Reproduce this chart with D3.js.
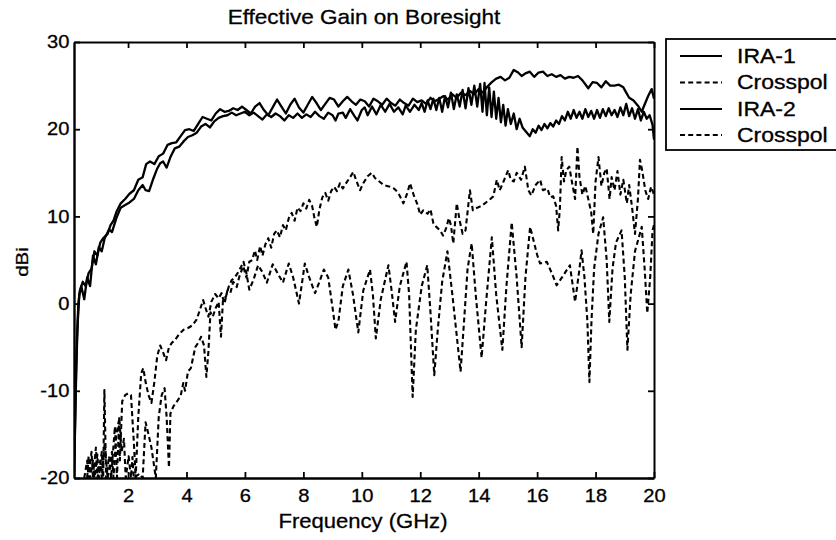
<!DOCTYPE html>
<html><head><meta charset="utf-8">
<script src="https://cdn.jsdelivr.net/npm/d3@7"></script>
<style>body{margin:0;background:#fff}svg{display:block}text{font-family:"Liberation Sans",Arial,sans-serif;fill:#000;stroke:#000;stroke-width:0.3px}</style>
</head><body><svg id="c" width="836" height="540"></svg>
<script>
const title = "Effective Gain on Boresight";
const xLabel = "Frequency (GHz)";
const yLabel = "dBi";
const xTicks = [2,4,6,8,10,12,14,16,18,20];
const yTicks = [-20,-10,0,10,20,30];
const legendLabels = ["IRA-1","Crosspol","IRA-2","Crosspol"];

const ira1F = [0.15,0.2,0.25,0.3,0.35,0.45,0.55,0.65,0.75,0.85,0.95,1.05,1.15,1.3,1.4,1.5,1.6,1.75,1.9,2.05,2.2,2.35,2.5,2.62,2.75,2.9,3.05,3.2,3.35,3.5,3.65,3.8,3.95,4.1,4.25,4.4,4.55,4.7,4.85,5.0,5.15,5.3,5.45,5.6,5.75,5.9,6.05,6.2,6.35,6.5,6.65,6.8,6.95,7.1,7.25,7.4,7.55,7.7,7.85,8.0,8.15,8.3,8.45,8.6,8.75,8.9,9.05,9.2,9.35,9.5,9.65,9.8,9.95,10.1,10.25,10.4,10.55,10.7,10.85,11.0,11.15,11.3,11.45,11.6,11.75,11.9,12.05,12.2,12.35,12.5,12.65,12.8,12.95,13.1,13.25,13.4,13.55,13.7,13.85,14.0,14.15,14.3,14.45,14.6,14.75,14.9,15.05,15.2,15.35,15.47,15.6,15.75,15.9,16.05,16.2,16.35,16.5,16.65,16.8,16.95,17.1,17.25,17.4,17.55,17.75,17.9,18.05,18.2,18.35,18.5,18.65,18.8,18.95,19.05,19.15,19.3,19.45,19.58,19.7,19.8,19.92,20.0];
const ira1V = [-20,-12,-4,0,1.5,2.5,2.0,3.5,4.0,6.0,5.5,7.0,7.5,8.0,9.0,9.5,10.5,11.5,12.0,12.6,13.0,14.2,14.5,16.0,16.3,16.0,16.9,17.2,18.2,18.4,18.5,19.2,19.9,20.0,19.8,20.6,21.4,21.2,21.0,21.8,22.3,22.0,22.1,22.4,22.2,22.6,22.2,21.8,22.6,23.0,22.2,21.6,22.5,23.4,22.6,21.8,22.8,23.5,22.5,21.9,22.8,23.7,23.0,22.2,22.9,23.6,23.4,22.6,23.2,23.7,23.2,22.8,23.4,23.2,22.6,23.5,23.2,22.8,23.5,23.0,22.7,23.4,23.0,22.7,23.5,23.1,23.3,22.9,23.6,23.2,23.5,23.8,23.4,24.0,23.6,24.2,23.9,24.4,24.0,24.6,24.2,24.9,25.4,25.8,26.0,25.6,25.9,26.8,26.5,26.1,26.4,26.6,26.0,26.5,26.6,26.1,26.3,26.0,26.2,25.8,26.0,25.9,26.1,25.6,24.7,25.4,25.3,24.8,25.5,25.0,25.0,25.1,24.8,24.2,23.6,23.3,22.7,22.0,23.0,23.8,24.6,23.5];

const ira2F = [0.15,0.22,0.28,0.33,0.4,0.5,0.6,0.7,0.8,0.9,1.0,1.1,1.2,1.35,1.45,1.6,1.75,1.9,2.05,2.2,2.35,2.5,2.6,2.72,2.85,3.0,3.1,3.2,3.32,3.45,3.6,3.75,3.9,4.05,4.2,4.35,4.5,4.65,4.8,4.95,5.1,5.25,5.4,5.55,5.7,5.85,6.0,6.15,6.3,6.45,6.6,6.75,6.9,7.05,7.2,7.35,7.5,7.65,7.8,7.95,8.1,8.25,8.4,8.55,8.7,8.85,9.0,9.1,9.2,9.35,9.45,9.6,9.75,9.85,10.0,10.1,10.2,10.35,10.5,10.65,10.8,10.95,11.1,11.25,11.4,11.5,11.65,11.8,11.95,12.05,12.15,12.25,12.35,12.45,12.55,12.65,12.75,12.85,12.95,13.05,13.15,13.25,13.35,13.45,13.55,13.65,13.75,13.85,13.95,14.05,14.13,14.2,14.28,14.36,14.44,14.52,14.6,14.68,14.76,14.84,14.92,15.0,15.1,15.2,15.3,15.4,15.5,15.6,15.75,15.85,15.95,16.05,16.15,16.25,16.35,16.45,16.55,16.65,16.75,16.85,16.95,17.05,17.15,17.25,17.35,17.45,17.55,17.65,17.75,17.85,17.95,18.05,18.15,18.25,18.35,18.45,18.55,18.65,18.75,18.85,18.95,19.05,19.15,19.25,19.35,19.45,19.55,19.65,19.75,19.85,19.95,20.0];
const ira2V = [-20,-8,-2,1.0,2.0,0.5,3.0,2.0,5.5,4.5,6.5,6.0,7.5,8.5,8.2,9.8,11.0,11.3,11.6,12.0,13.0,13.6,13.0,12.9,14.2,15.5,16.1,16.3,15.6,16.8,17.8,18.0,18.6,19.1,19.3,19.6,20.3,20.6,20.2,20.9,21.3,21.5,21.6,21.9,21.6,21.8,22.0,21.6,21.9,21.5,21.1,21.7,21.4,21.8,21.5,21.0,21.6,21.3,21.8,21.3,21.7,21.4,22.0,21.5,21.2,21.9,21.6,21.0,21.8,21.9,21.3,22.3,21.5,21.0,22.2,22.5,21.6,22.6,21.7,22.8,22.0,22.9,22.0,22.5,21.7,22.7,22.0,22.8,22.2,23.0,22.0,23.3,22.3,23.5,22.2,23.6,22.0,23.8,22.5,24.2,22.3,24.0,22.6,24.5,22.4,24.7,22.8,25.0,22.6,25.2,22.0,25.3,21.6,24.8,21.4,24.3,21.2,23.6,20.8,22.8,20.4,22.3,20.6,21.8,20.0,21.2,20.2,19.8,19.2,20.0,19.6,20.4,19.9,20.6,20.1,20.7,20.3,21.0,20.6,21.5,21.0,22.0,21.2,22.2,21.3,22.0,21.2,22.3,21.4,22.1,21.2,22.2,21.3,22.3,21.5,22.4,21.6,22.2,21.4,22.5,21.6,22.9,21.5,22.4,21.2,22.3,21.0,22.0,21.2,21.6,20.5,18.8];

const cross1F = [0.5,0.6,0.65,0.75,0.8,0.9,0.95,1.05,1.1,1.2,1.3,1.45,1.5,1.6,1.68,1.72,1.8,1.9,2.0,2.1,2.2,2.26,2.35,2.45,2.52,2.6,2.7,2.8,2.9,3.0,3.1,3.2,3.3,3.4,3.5,3.6,3.75,3.9,4.05,4.2,4.35,4.45,4.57,4.65,4.75,4.85,4.98,5.1,5.2,5.3,5.4,5.5,5.6,5.72,5.8,5.94,6.05,6.15,6.25,6.34,6.42,6.52,6.6,6.7,6.8,6.9,7.0,7.09,7.2,7.3,7.4,7.5,7.6,7.7,7.8,7.9,8.0,8.1,8.2,8.3,8.38,8.46,8.55,8.65,8.75,8.85,8.95,9.05,9.15,9.25,9.35,9.48,9.6,9.71,9.8,9.94,10.05,10.2,10.34,10.45,10.6,10.75,10.96,11.1,11.25,11.42,11.55,11.65,11.78,11.9,12.0,12.1,12.25,12.35,12.45,12.55,12.68,12.78,12.88,12.98,13.05,13.13,13.25,13.35,13.45,13.55,13.7,13.8,13.95,14.1,14.25,14.4,14.5,14.62,14.72,14.85,15.01,15.1,15.2,15.3,15.45,15.58,15.7,15.8,15.95,16.1,16.2,16.35,16.45,16.55,16.65,16.72,16.78,16.84,16.92,17.0,17.1,17.2,17.3,17.38,17.45,17.55,17.65,17.75,17.85,17.92,18.0,18.1,18.2,18.3,18.38,18.48,18.55,18.65,18.75,18.85,18.95,19.07,19.15,19.25,19.35,19.45,19.52,19.6,19.7,19.8,19.9,20.0];
const cross1V = [-20,-18,-20,-17,-20,-16.5,-20,-18,-20,-16,-20,-17,-20,-15,-13.5,-18,-11.2,-10.5,-10.3,-10.5,-16,-20,-13,-8.0,-7.4,-9,-10.5,-11.4,-9,-6,-4.8,-5.6,-6.5,-5.0,-4.5,-4.2,-3.5,-3.0,-2.8,-2.5,-1.8,-0.8,0.4,-0.5,-1.5,0.2,1.1,0.6,1.2,0.0,1.5,1.2,2.5,1.9,3.0,4.3,3.0,4.8,5.0,6.1,5.0,6.6,5.5,6.8,7.5,6.4,8.0,8.4,7.6,9.0,8.4,9.8,10.4,9.5,11.0,10.6,11.5,10.9,11.9,11.2,9.8,8.8,10.8,12.2,12.7,11.8,12.9,13.4,12.9,13.8,13.2,13.9,14.5,15.1,14.2,13.0,13.8,14.6,15.0,14.4,14.0,13.6,13.4,13.2,12.7,11.5,12.6,13.8,12.4,11.4,10.2,10.7,10.3,10.8,9.2,8.8,8.4,7.8,8.6,9.8,9.0,6.9,11.5,9.5,8.0,8.4,13.0,10.7,11.0,11.2,11.6,12.0,12.3,14.2,13.0,14.0,15.3,14.2,14.0,15.0,14.2,15.7,13.0,12.4,13.6,14.2,13.0,13.2,12.2,12.3,11.2,8.4,11.0,16.8,14.0,15.3,15.7,13.8,12.0,18.0,14.5,12.5,13.5,12.0,10.5,8.0,14.0,16.8,13.5,15.0,15.5,12.0,14.5,13.0,15.2,12.5,14.2,11.5,13.6,11.0,8.0,12.0,16.5,15.2,13.0,12.0,13.4,12.5];

const cross2F = [0.6,0.65,0.7,0.8,0.85,0.95,1.0,1.1,1.15,1.19,1.25,1.35,1.42,1.55,1.62,1.7,1.78,1.86,1.92,2.02,2.1,2.15,2.2,2.4,2.5,2.6,2.7,2.8,2.95,3.05,3.15,3.25,3.32,3.4,3.45,3.55,3.7,3.8,3.89,3.95,4.05,4.15,4.3,4.4,4.5,4.6,4.68,4.75,4.82,4.9,5.0,5.1,5.18,5.25,5.35,5.45,5.55,5.65,5.75,5.85,5.95,6.05,6.15,6.3,6.45,6.6,6.75,6.95,7.1,7.3,7.5,7.65,7.85,8.05,8.2,8.4,8.55,8.7,8.85,9.0,9.1,9.2,9.35,9.54,9.7,9.88,10.05,10.28,10.38,10.48,10.65,10.91,11.02,11.14,11.3,11.53,11.62,11.74,11.85,12.05,12.24,12.35,12.48,12.6,12.75,12.93,13.1,13.38,13.5,13.62,13.76,13.9,14.1,14.25,14.45,14.6,14.81,14.95,15.13,15.3,15.47,15.6,15.76,16.0,16.1,16.33,16.5,16.67,16.85,17.12,17.3,17.45,17.52,17.62,17.72,17.79,17.86,17.95,18.1,18.26,18.38,18.47,18.58,18.7,18.89,19.0,19.09,19.2,19.35,19.58,19.68,19.77,19.87,19.95,20.0];
const cross2V = [-20,-17.5,-20,-18,-20,-17.3,-20,-17,-20,-9.9,-20,-17.5,-20,-14.1,-20,-13,-17,-15.5,-20,-17.5,-20,-17.6,-20,-19.5,-20,-13.6,-15,-16.5,-20,-13,-10.5,-9.7,-13,-18.8,-12.6,-11.8,-11.1,-10.6,-9.1,-10,-7.8,-7.4,-5.0,-4.5,-3.8,-4.8,-8.4,-5.5,-1.0,-1.5,-0.5,0.2,-3.8,0.5,0.8,2.0,2.7,3.0,3.5,4.1,4.8,3.5,1.6,2.8,4.4,3.6,2.4,4.5,3.6,2.4,4.6,3.0,0.0,4.6,3.0,1.2,2.5,3.9,3.0,-0.5,-3.0,-2.0,2.0,3.9,1.0,-3.3,1.5,3.9,1.0,-4.0,0.5,4.4,1.5,-2.1,2.0,4.8,1.0,-10.7,-3.0,2.0,4.4,-1.0,-8.2,-3.0,2.5,6.0,1.0,-7.8,-2.0,4.0,6.9,1.0,-6.2,0.0,7.6,1.0,-5.3,2.0,9.3,3.0,-5.0,3.0,8.8,5.6,4.6,4.8,3.5,2.1,3.0,4.4,0.2,4.0,6.1,3.0,-2.0,-9.0,-2.0,4.0,8.0,9.9,5.0,-2.1,4.0,7.0,8.4,3.0,-5.3,1.0,6.0,8.8,4.0,-1.1,3.0,8.4,9.0];

const svg = d3.select("#c");
const m = {l:74, r:654, t:42, b:478};
const x = d3.scaleLinear().domain([0.15,20]).range([m.l,m.r]);
const y = d3.scaleLinear().domain([-20,30]).range([m.b,m.t]);

svg.append("defs").append("clipPath").attr("id","clip")
  .append("rect").attr("x",m.l).attr("y",m.t).attr("width",m.r-m.l).attr("height",m.b-m.t);

const series = [
  {f:ira1F, v:ira1V, dash:null},
  {f:cross1F, v:cross1V, dash:"5,3.2"},
  {f:ira2F, v:ira2V, dash:null},
  {f:cross2F, v:cross2V, dash:"5,3.2"}
];
const line = d3.line().x(d=>x(d[0])).y(d=>y(d[1]));
const gL = svg.append("g").attr("clip-path","url(#clip)");
series.forEach(s=>{
  const pts = s.f.map((f,i)=>[f,s.v[i]]);
  gL.append("path").datum(pts).attr("d",line).attr("fill","none")
    .attr("stroke","#000").attr("stroke-width",s.dash?2.1:2.3).attr("stroke-linejoin","round")
    .attr("stroke-dasharray",s.dash);
});

function styleAxis(g, w){
  g.select(".domain").attr("stroke","#000").attr("stroke-width",w);
  g.selectAll(".tick line").attr("stroke","#000").attr("stroke-width",1.8);
}
const fmt = d => String(d);
const sx = 1.15;
const gx = svg.append("g").attr("transform",`translate(0,${m.b})`)
  .call(d3.axisBottom(x).tickValues(xTicks).tickSize(-6).tickSizeOuter(0).tickPadding(12).tickFormat(fmt));
styleAxis(gx,2.4);
gx.selectAll("text").attr("font-size",17.5).attr("font-family","Liberation Sans, Arial, sans-serif").attr("fill","#000").attr("transform",`scale(${sx},1)`);
const gy = svg.append("g").attr("transform",`translate(${m.l},0)`)
  .call(d3.axisLeft(y).tickValues(yTicks).tickSize(-6).tickSizeOuter(0).tickPadding(4).tickFormat(fmt));
styleAxis(gy,2.4);
gy.selectAll("text").attr("font-size",17.5).attr("font-family","Liberation Sans, Arial, sans-serif").attr("fill","#000").attr("transform",`scale(${sx},1)`);
const gt = svg.append("g").attr("transform",`translate(0,${m.t})`)
  .call(d3.axisTop(x).tickValues(xTicks).tickSize(-6).tickSizeOuter(0).tickFormat(""));
styleAxis(gt,2.0);
const gr = svg.append("g").attr("transform",`translate(${m.r},0)`)
  .call(d3.axisRight(y).tickValues(yTicks).tickSize(-6).tickSizeOuter(0).tickFormat(""));
styleAxis(gr,2.0);

svg.append("text").attr("transform",`translate(364,24) scale(1.1,1)`).attr("text-anchor","middle")
  .attr("font-size",20.5).text(title);
svg.append("text").attr("transform",`translate(363,528) scale(1.05,1)`).attr("text-anchor","middle")
  .attr("font-size",21).text(xLabel);
svg.append("text").attr("transform",`translate(28,262) rotate(-90) scale(1.2,1)`).attr("text-anchor","middle")
  .attr("font-size",17).text(yLabel);

const lg = svg.append("g");
lg.append("rect").attr("x",666).attr("y",39).attr("width",200).attr("height",111)
  .attr("fill","#fff").attr("stroke","#000").attr("stroke-width",1.8);
const rowsY = [56,82.5,109,135];
legendLabels.forEach((t,i)=>{
  lg.append("line").attr("x1",680).attr("x2",722).attr("y1",rowsY[i]).attr("y2",rowsY[i])
    .attr("stroke","#000").attr("stroke-width",1.8).attr("stroke-dasharray",series[i].dash);
  lg.append("text").attr("transform",`translate(737,${rowsY[i]+6.5}) scale(1.15,1)`)
    .attr("font-size",20).text(t);
});
</script></body></html>
